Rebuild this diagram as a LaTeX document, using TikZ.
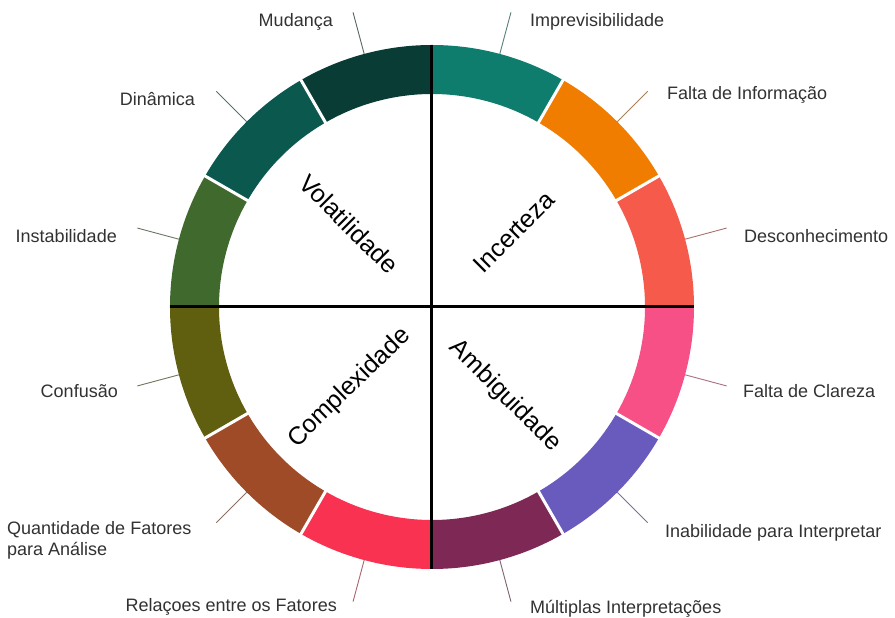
\documentclass[tikz,border=0pt]{standalone}
\usepackage{fontspec}
\setmainfont{Liberation Sans}
\usetikzlibrary{calc}
\definecolor{cMud}{RGB}{8,60,52}
\definecolor{cDin}{RGB}{10,88,78}
\definecolor{cIns}{RGB}{64,105,45}
\definecolor{cCon}{RGB}{95,95,15}
\definecolor{cQua}{RGB}{160,75,40}
\definecolor{cRel}{RGB}{248,50,80}
\definecolor{cMul}{RGB}{125,40,85}
\definecolor{cIna}{RGB}{105,90,190}
\definecolor{cCla}{RGB}{247,80,135}
\definecolor{cDes}{RGB}{245,90,75}
\definecolor{cInf}{RGB}{240,125,0}
\definecolor{cImp}{RGB}{14,125,110}
\definecolor{labelgray}{RGB}{50,50,50}
\begin{document}
\begin{tikzpicture}[x=1pt,y=1pt,
  lbl/.style={font=\fontsize{18}{21}\selectfont, text=labelgray, inner sep=0pt},
  quad/.style={font=\fontsize{25}{30}\selectfont, text=black, inner sep=0pt},
  leader/.style={line width=0.9pt},
  gapline/.style={white, line width=3pt},
  axisline/.style={black, line width=3pt}]
\useasboundingbox[fill=white] (-432,-311) rectangle (463,307);
% ring segments
\foreach \a/\c in {90/cMud,120/cDin,150/cIns,180/cCon,210/cQua,240/cRel,270/cMul,300/cIna,330/cCla,0/cDes,30/cInf,60/cImp}{
  \fill[\c] (\a:262) arc[start angle=\a, end angle={\a+30}, radius=262]
    -- ({\a+30}:213) arc[start angle={\a+30}, end angle=\a, radius=213] -- cycle;
}
% white gaps
\foreach \a in {30,60,120,150,210,240,300,330}{
  \draw[gapline] (\a:211) -- (\a:264);
}
% axes
\coordinate (L) at (180:262);
\coordinate (R) at (0:262);
\coordinate (T) at (90:262);
\coordinate (B) at (270:262);
\draw[axisline] (L) -- (R);
\draw[axisline] (T) -- (B);
% leader lines
\foreach \m/\c/\n in {105/cMud/mud,135/cDin/din,165/cIns/ins,195/cCon/con,225/cQua/qua,255/cRel/rel,285/cMul/mul,315/cIna/ina,345/cCla/cla,15/cDes/des,45/cInf/inf,75/cImp/imp}{
  \coordinate (s\n) at (\m:262);
  \coordinate (e\n) at (\m:305);
  \draw[leader, \c!35!gray] (s\n) -- (e\n);
}
% labels
\node[lbl, anchor=base east] (lmud) at (-99,280) {Mudança};
\node[lbl, anchor=base west] (limp) at (98,280) {Imprevisibilidade};
\node[lbl, anchor=base east] (ldin) at (-237,201) {Dinâmica};
\node[lbl, anchor=base west] (linf) at (235,207) {Falta de Informação};
\node[lbl, anchor=base east] (lins) at (-315,64) {Instabilidade};
\node[lbl, anchor=base west] (ldes) at (312,64) {Desconhecimento};
\node[lbl, anchor=base west] (lcla) at (311,-91) {Falta de Clareza};
\node[lbl, anchor=base east] (lcon) at (-314,-91) {Confusão};
\node[lbl, anchor=base west, align=left] (lqua) at (-425,-248) {Quantidade de Fatores\\para Análise};
\node[lbl, anchor=base west] (lina) at (233,-230) {Inabilidade para Interpretar};
\node[lbl, anchor=base west] (lmul) at (98,-306) {Múltiplas Interpretações};
\node[lbl, anchor=base east] (lrel) at (-95,-305) {Relaçoes entre os Fatores};
% quadrant titles
\node[quad, rotate=-45] (qvol) at (-83,83) {Volatilidade};
\node[quad, rotate=45] (qinc) at (82,75) {Incerteza};
\node[quad, rotate=44] (qcom) at (-82,-81) {Complexidade};
\node[quad, rotate=-45] (qamb) at (73,-89) {Ambiguidade};
\end{tikzpicture}
\end{document}
